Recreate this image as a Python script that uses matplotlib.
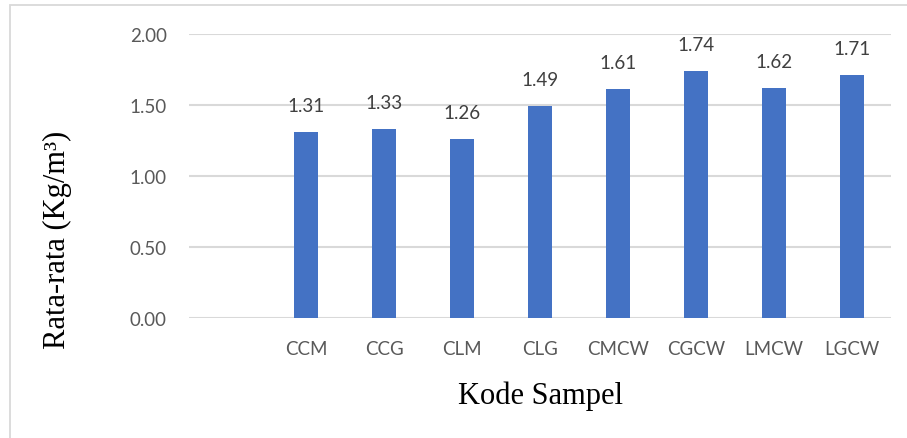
import matplotlib.pyplot as plt
from matplotlib.patches import Rectangle

# Data
kode = ["", "CCM", "CCG", "CLM", "CLG", "CMCW", "CGCW", "LMCW", "LGCW"]
rata = [None, 1.31, 1.33, 1.26, 1.49, 1.61, 1.74, 1.62, 1.71]
y_ticks = [0.0, 0.5, 1.0, 1.5, 2.0]

W, H = 907, 439
fig = plt.figure(figsize=(W / 100, H / 100), dpi=100)
ax = fig.add_axes([189 / W, (H - 319) / H, (891 - 189) / W, (319 - 35) / H])

# figure border
fig.patches.append(Rectangle((9.5 / W, -0.05), 1.1, (H - 5.5) / H + 0.05,
                             transform=fig.transFigure, fill=False,
                             edgecolor="#d9d9d9", lw=1.3))

x = list(range(len(kode)))
vals = [v if v is not None else 0 for v in rata]
bars = ax.bar(x, vals, width=0.32, color="#4472C4", zorder=3)

for xi, v in zip(x, rata):
    if v is None:
        continue
    ax.annotate(f"{v:.2f}", (xi, v), xytext=(0, 13), textcoords="offset points",
                ha="center", va="bottom", fontsize=13.5, family="Lato",
                color="#404040")

ax.set_xlim(-0.5, len(kode) - 0.5)
ax.set_ylim(0, 2.0)
ax.set_yticks(y_ticks)
ax.set_yticklabels([f"{t:.2f}" for t in y_ticks])
ax.set_xticks(x)
ax.set_xticklabels(kode)
ax.yaxis.grid(True, color="#d9d9d9", lw=1.5, zorder=0)
ax.set_axisbelow(True)
for s in ax.spines.values():
    s.set_visible(False)
ax.tick_params(length=0, labelsize=13.5, labelcolor="#595959")
ax.tick_params(axis="x", pad=16)
ax.tick_params(axis="y", pad=16)
for lab in ax.get_xticklabels() + ax.get_yticklabels():
    lab.set_family("Lato")

ax.set_xlabel("Kode Sampel", family="Liberation Serif", fontsize=22, labelpad=17)
ax.set_ylabel("Rata-rata (Kg/m³)", family="Liberation Serif", fontsize=22)
ax.yaxis.set_label_coords(-0.166, 0.278)

fig.savefig("out.png", dpi=100)
